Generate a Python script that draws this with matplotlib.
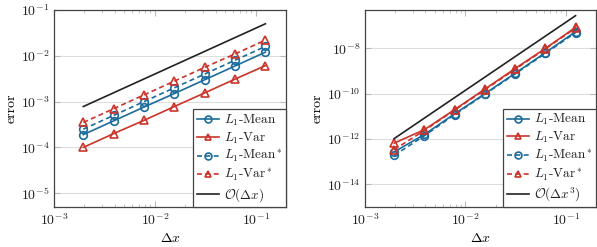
import numpy as np
from matplotlib import pyplot as plt
from matplotlib.ticker import LogLocator, NullLocator, NullFormatter

plt.rcParams['font.family'] = 'cmr10'
plt.rcParams['mathtext.fontset'] = 'cm'
plt.rcParams['axes.formatter.use_mathtext'] = True
plt.rcParams['font.size'] = 10
plt.rcParams['text.color'] = '#222222'
plt.rcParams['xtick.labelcolor'] = '#222222'
plt.rcParams['ytick.labelcolor'] = '#222222'

dx = [1 / 512, 1 / 256, 1 / 128, 1 / 64, 1 / 32, 1 / 16, 1 / 8]

# first order case
mean_1 = [1.9e-4, 3.8e-4, 7.6e-4, 1.5e-3, 3.0e-3, 6.0e-3, 1.2e-2]
var_1 = [1.0e-4, 2.0e-4, 3.9e-4, 7.8e-4, 1.55e-3, 3.1e-3, 6.1e-3]
mean_1s = [2.5e-4, 5.0e-4, 1.0e-3, 2.0e-3, 4.0e-3, 8.0e-3, 1.6e-2]
var_1s = [3.5e-4, 7.0e-4, 1.4e-3, 2.8e-3, 5.6e-3, 1.1e-2, 2.2e-2]
ref_1 = [7.8e-4, 5.0e-2]

# third order case
mean_3 = [2.7e-13, 1.6e-12, 1.3e-11, 1.0e-10, 8.0e-10, 6.5e-9, 5.5e-8]
var_3 = [6.6e-13, 2.6e-12, 2.0e-11, 1.6e-10, 1.3e-9, 1.0e-8, 8.5e-8]
mean_3s = [1.9e-13, 1.4e-12, 1.2e-11, 9.5e-11, 7.5e-10, 6.0e-9, 5.0e-8]
var_3s = [3.4e-13, 2.4e-12, 1.9e-11, 1.5e-10, 1.2e-9, 9.5e-9, 8.0e-8]
ref_3 = [1.05e-12, 2.8e-7]

blue = '#1b6c9c'
red = '#cc3329'


def draw(ax, mean, var, mean_s, var_s, ref, ref_label, ylim, yticks):
    kw = dict(lw=1.2, ms=5.5, mfc='none', mew=1.2)
    ax.plot(dx, mean, '-o', color=blue, label=r'$L_1$-Mean', **kw)
    ax.plot(dx, var, '-^', color=red, label=r'$L_1$-Var', **kw)
    ax.plot(dx, mean_s, '--o', color=blue, label=r'$L_1$-Mean$^*$', dashes=(3, 2), **kw)
    ax.plot(dx, var_s, '--^', color=red, label=r'$L_1$-Var$^*$', dashes=(3, 2), **kw)
    ax.plot([dx[0], dx[-1]], ref, '-', color='#222222', lw=1.2, label=ref_label)

    ax.set_xscale('log')
    ax.set_yscale('log')
    ax.set_xlim(1e-3, 0.2)
    ax.set_ylim(*ylim)
    ax.set_yticks(yticks)
    ax.yaxis.set_minor_locator(NullLocator())
    ax.xaxis.set_minor_locator(LogLocator(subs=np.arange(2, 10), numticks=20))
    ax.xaxis.set_minor_formatter(NullFormatter())
    ax.grid(axis='y', which='major', color='#dddddd', lw=0.8)
    ax.set_axisbelow(True)
    ax.tick_params(which='both', direction='in', top=True, right=True,
                   color='#bbbbbb')
    ax.tick_params(which='major', length=4)
    ax.tick_params(which='minor', length=2)
    for s in ax.spines.values():
        s.set_color('#444444')
        s.set_linewidth(0.9)
    ax.set_xlabel(r'$\Delta x$', labelpad=3)
    ax.set_ylabel('error', labelpad=2)
    leg = ax.legend(loc='lower right', borderaxespad=0, fancybox=False,
                    framealpha=1, edgecolor='#444444', handlelength=1.7,
                    handletextpad=0.35, borderpad=0.25, labelspacing=0.2,
                    fontsize=9.5, markerscale=0.9)
    leg.get_frame().set_linewidth(0.9)


fig = plt.figure(figsize=(5.97, 2.47), dpi=100)
ax1 = fig.add_axes([0.0905, 0.162, 0.3886, 0.7976])
ax2 = fig.add_axes([0.6114, 0.162, 0.3870, 0.7976])

draw(ax1, mean_1, var_1, mean_1s, var_1s, ref_1, r'$\mathcal{O}(\Delta x)$',
     (5e-6, 1e-1), [1e-5, 1e-4, 1e-3, 1e-2, 1e-1])
draw(ax2, mean_3, var_3, mean_3s, var_3s, ref_3, r'$\mathcal{O}(\Delta x^3)$',
     (1e-15, 5e-7), [1e-14, 1e-12, 1e-10, 1e-8])

fig.savefig('out.png', dpi=100)
